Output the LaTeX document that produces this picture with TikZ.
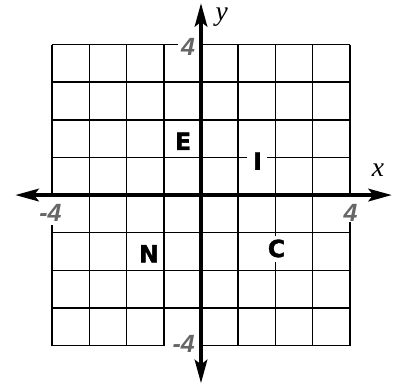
\documentclass[tikz,border=0pt]{standalone}
\usepackage{fontspec}
\setmainfont{Liberation Sans}
\newfontfamily\axfont{Liberation Serif}
\newfontfamily\letfont[FakeBold=1.5]{DejaVu Sans Bold}
\usetikzlibrary{arrows.meta}
\tikzset{
  gridline/.style={line width=1.1pt},
  axisline/.style={line width=2.5pt,
    {Stealth[length=6.3mm,width=3.4mm,inset=1.3mm]}-{Stealth[length=6.3mm,width=3.4mm,inset=1.3mm]}},
  letter/.style={font=\fontsize{18}{18}\selectfont\letfont, inner sep=0pt},
  num/.style={font=\fontsize{19}{19}\selectfont\bfseries\itshape, text=black!60, inner sep=0pt},
  axlabel/.style={font=\fontsize{21}{21}\selectfont\axfont\itshape, inner sep=0pt}
}
\begin{document}
\begin{tikzpicture}[x=0.997cm,y=1.008cm]
\useasboundingbox (-5.403,-5.053) rectangle (5.188,5.186);
% inner vertical grid lines
\foreach \i in {-3,-2,-1,1,3} \draw[gridline] (\i,-4) -- (\i,4);
\draw[gridline] (2,-4) -- (2,-1.78);
\draw[gridline] (2,-1.1) -- (2,4);
% inner horizontal grid lines
\foreach \j in {-3,-2,-1,2,3} \draw[gridline] (-4,\j) -- (4,\j);
\draw[gridline] (-4,1) -- (1.23,1);
\draw[gridline] (1.77,1) -- (4,1);
% outer border with gaps for labels
\draw[gridline] (-4,4) -- (-0.62,4);
\draw[gridline] (0,4) -- (4,4);
\draw[gridline] (-4,-4) -- (-1,-4);
\draw[gridline] (0,-4) -- (4,-4);
\draw[gridline] (-4,-0.05) -- (-4,4);
\draw[gridline] (-4,-4) -- (-4,-0.8);
\draw[gridline] (4,-0.05) -- (4,4);
\draw[gridline] (4,-4) -- (4,-0.72);
% axes
\coordinate (xl) at (-4.99,0);
\coordinate (xr) at (5.13,0);
\coordinate (yb) at (0,-5.0);
\coordinate (yt) at (0,5.1);
\draw[axisline] (xl) -- (xr);
\draw[axisline] (yb) -- (yt);
% axis labels
\node[axlabel] (xlab) at (4.76,0.65) {x};
\node[axlabel] (ylab) at (0.56,4.72) {y};
% tick numbers
\node[num] (ytop) at (-0.35,3.94) {4};
\node[num, anchor=east] (ybot) at (-0.16,-3.96) {-4};
\node[num, anchor=east] (xleft) at (-3.74,-0.48) {-4};
\node[num] (xright) at (4.02,-0.47) {4};
% letters
\node[letter] (E) at (-0.48,1.43) {E};
\node[letter] (I) at (1.52,0.90) {I};
\node[letter] (N) at (-1.40,-1.56) {N};
\node[letter] (C) at (2.03,-1.42) {C};
\end{tikzpicture}
\end{document}
